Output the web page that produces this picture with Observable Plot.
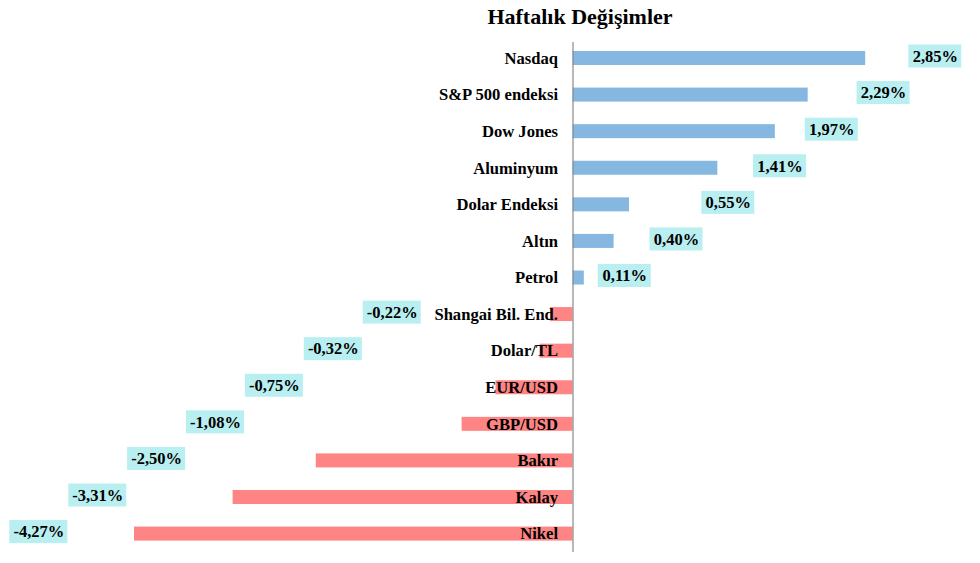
<!DOCTYPE html>
<html>
<head>
<meta charset="utf-8">
<script src="https://cdn.jsdelivr.net/npm/d3@7"></script>
<script src="https://cdn.jsdelivr.net/npm/@observablehq/plot@0.6"></script>
<style>
  html, body { margin: 0; padding: 0; background: #fff; }
  #wrap { width: 980px; height: 563px; overflow: hidden; }
  #title {
    height: 36px; line-height: 36px;
    box-sizing: border-box; padding-left: 180px;
    text-align: center;
    font: bold 22px "Liberation Serif", "Times New Roman", serif;
    color: #000;
    position: relative; top: 4px;
  }
  #chart svg { display: block; }
</style>
</head>
<body>
<div id="wrap">
  <div id="title">Haftalık Değişimler</div>
  <div id="chart"></div>
</div>
<script>
const categories = ["Nasdaq", "S&P 500 endeksi", "Dow Jones", "Aluminyum", "Dolar Endeksi", "Altın", "Petrol",
  "Shangai Bil. End.", "Dolar/TL", "EUR/USD", "GBP/USD", "Bakır", "Kalay", "Nikel"];
const values = [2.85, 2.29, 1.97, 1.41, 0.55, 0.40, 0.11, -0.22, -0.32, -0.75, -1.08, -2.50, -3.31, -4.27];

const data = categories.map((name, i) => ({name, value: values[i], i}));
const nPos = values.filter(v => v >= 0).length;

// diagonal placement of the value labels (as in the original spreadsheet chart)
const posStep = 0.504, negStep = 0.5735;
const posW = 0.516, negW = 0.565;
const labelX = d => d.value >= 0 ? (nPos - d.i) * posStep : -(d.i - nPos + 3.07) * negStep;
const boxW = d => d.value >= 0 ? posW : negW;
const fmt = v => v.toFixed(2).replace(".", ",") + "%";

const blue = "#86b7e1", red = "#ff8585", cyan = "#b9eff0";

const chart = Plot.plot({
  width: 980,
  height: 527,
  marginLeft: 0,
  marginRight: 0,
  marginTop: 15,
  marginBottom: 22.4,
  style: {fontFamily: "'Liberation Serif', 'Times New Roman', serif", background: "#fff"},
  x: {domain: [-5.575, 3.968], axis: null},
  y: {domain: categories, axis: null, paddingInner: 0.617, paddingOuter: 0, round: false},
  marks: [
    Plot.barX(data, {y: "name", x: "value", fill: d => d.value >= 0 ? blue : red}),
    Plot.ruleX([0], {stroke: "#8a8a8a", strokeWidth: 1.2, insetTop: -9, insetBottom: -11.5}),
    Plot.text(data, {y: "name", x: 0, text: "name", textAnchor: "end", dx: -15,
      fontSize: 16.6, fontWeight: "bold", fill: "#000"}),
    Plot.barX(data, {y: "name", x1: d => labelX(d) - boxW(d) / 2, x2: d => labelX(d) + boxW(d) / 2,
      fill: cyan, insetTop: -4.5, insetBottom: -4.5, dy: -2}),
    Plot.text(data, {y: "name", x: labelX, text: d => fmt(d.value), dy: -2,
      fontSize: 16.5, fontWeight: "bold", fill: "#000"})
  ]
});
document.getElementById("chart").appendChild(chart);
</script>
</body>
</html>
